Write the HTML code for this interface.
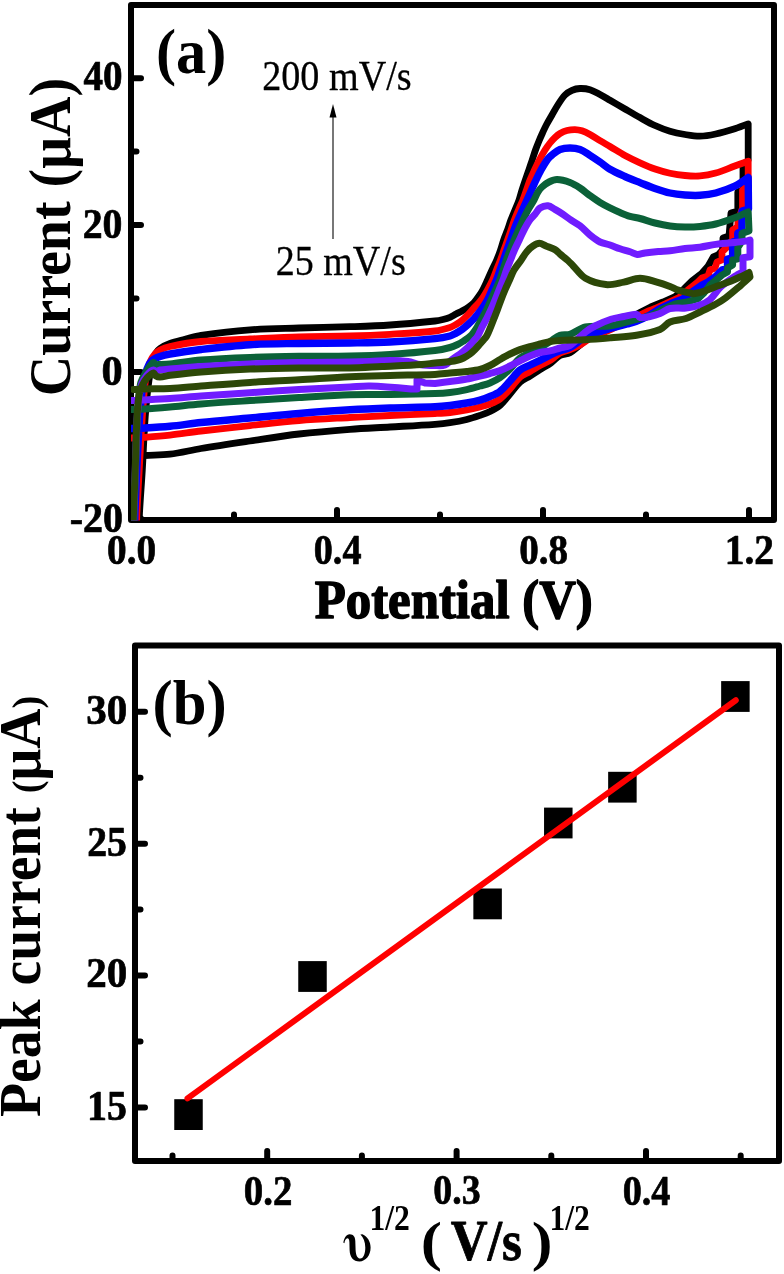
<!DOCTYPE html>
<html><head><meta charset="utf-8"><style>
html,body{margin:0;padding:0;background:#fff;width:784px;height:1274px;overflow:hidden}
svg{display:block}
text{font-family:"Liberation Serif",serif}
svg{will-change:transform}
</style></head><body>
<svg width="784" height="1274" viewBox="0 0 784 1274">
<rect width="784" height="1274" fill="#fff"/>
<path d="M131,5 H774 V520 H131 Z" fill="none" stroke="#000" stroke-width="6" stroke-linejoin="round"/>
<path d="M134,78.3 H141 M134,225 H141 M134,372 H141 M134,518.6 H141 M134,151.6 H136.5 M134,298.5 H136.5 M134,445.3 H136.5 M337,517 V510 M543,517 V510 M749,517 V510 M234,517 V514.5 M440,517 V514.5 M646,517 V514.5" stroke="#000" stroke-width="6" stroke-linecap="round" fill="none"/>
<defs><clipPath id="ca"><rect x="131" y="5" width="643" height="515.5"/></clipPath></defs>
<g clip-path="url(#ca)" fill="none" stroke-linejoin="round" stroke-linecap="round">
<path d="M139,530 C139,530 139.19,518.66 139.5,513 C140.29,498.66 141.45,484.34 142.3,470 C143.35,452.34 143.89,434.64 145.2,417 C146.12,404.64 147.26,392.26 149,380 C149.96,373.26 151.59,366.58 153.3,360 C153.93,357.58 154.76,355.13 156,353 C156.99,351.29 158.37,349.61 160,348.5 C163.03,346.44 166.52,344.78 170,343.5 C174.85,341.71 179.98,340.63 185,339.3 C190.31,337.89 195.57,336.09 201,335.3 C217.24,332.93 233.62,331.02 250,329.8 C266.29,328.59 282.66,328.51 299,328 C316,327.47 333,327.26 350,326.7 C363.34,326.26 376.69,325.89 390,325 C405.02,323.99 420.03,322.55 435,321 C437.7,320.72 440.37,320.15 443,319.5 C445.37,318.92 447.76,318.25 450,317.3 C452.09,316.41 453.98,315.06 456,314 C457.98,312.96 460.03,312.06 462,311 C464.03,309.9 466.12,308.83 468,307.5 C470.12,306 472.21,304.37 474,302.5 C475.88,300.54 477.45,298.24 479,296 C480.45,293.91 481.81,291.74 483,289.5 C484.64,286.41 486.03,283.18 487.5,280 C489.03,276.68 490.47,273.32 492,270 C493.54,266.65 495.26,263.39 496.7,260 C498.09,256.72 499.34,253.37 500.5,250 C501.64,246.7 502.45,243.29 503.6,240 C504.78,236.63 506.27,233.36 507.5,230 C508.71,226.69 509.66,223.3 510.9,220 C512.16,216.63 513.65,213.34 515,210 C516.35,206.67 517.82,203.39 519,200 C520.15,196.72 520.95,193.32 522,190 C523.05,186.65 524.17,183.32 525.3,180 C526.44,176.66 527.65,173.34 528.8,170 C529.95,166.67 531.08,163.34 532.2,160 C533.31,156.67 534.32,153.3 535.5,150 C536.58,146.97 537.77,143.98 539,141 C540.11,138.31 541.29,135.65 542.5,133 C543.73,130.31 544.92,127.61 546.3,125 C548.09,121.61 550.09,118.33 552,115 C553.92,111.66 555.7,108.23 557.8,105 C560.04,101.56 562.19,97.91 565,95 C566.92,93.01 569.47,91.4 572,90.3 C574.47,89.23 577.31,88.59 580,88.5 C583.31,88.39 586.83,88.75 590,89.7 C593.49,90.75 596.73,92.78 600,94.5 C603.39,96.28 606.68,98.28 610,100.2 C615.01,103.11 619.99,106.09 625,109 C629.99,111.89 634.95,114.82 640,117.6 C644.95,120.32 649.86,123.17 655,125.5 C659.86,127.7 664.89,129.67 670,131.2 C674.89,132.67 679.96,133.66 685,134.5 C689.96,135.33 695.01,136.28 700,136.2 C705.24,136.11 710.55,135.11 715.7,134 C722.15,132.61 728.49,130.66 734.8,128.7 C739.33,127.29 748.2,123.9 748.2,123.9 L748.2,160 L743,165 L743,190 L737.8,192 L737.8,211 L731,213 L729,236 L723,238 L722.5,250 L718,255 L713.3,257 L708.2,266 L702,273 L699.7,275 L692,281 L684.4,288.5 L675.2,296.5 L663,302 L650.7,307 C650.7,307 643.52,310.57 640,312.5 C635.62,314.91 631.41,317.64 627,320 C621.74,322.81 616.42,325.52 611,328 C604.42,331.02 597.3,333.04 591,336.5 C586.97,338.71 583.67,342.17 580,345 C576.67,347.57 573.66,350.78 570,352.7 C566.99,354.28 562.98,353.9 560,355.5 C556.65,357.3 554.17,360.67 551,362.9 C547.5,365.37 543.64,367.33 540,369.6 C536.64,371.69 533.35,373.89 530,376 C526.68,378.09 522.88,379.61 520,382.2 C516.21,385.61 513.37,390.1 510,394 C506.7,397.83 503.76,402.11 500,405.4 C497.09,407.94 493.48,409.76 490,411.5 C486.81,413.09 483.38,414.23 480,415.4 C475.65,416.9 471.27,418.41 466.8,419.5 C461.27,420.85 455.63,421.85 450,422.7 C445.03,423.45 440.01,423.94 435,424.3 C420.01,425.37 405,426.12 390,427 C376.67,427.78 363.31,428.28 350,429.3 C332.98,430.61 315.95,432.02 299,434 C282.62,435.92 266.32,438.59 250,441 C233.65,443.42 217.3,445.81 201,448.5 C190.63,450.21 180.4,452.9 170,454.2 C161.74,455.23 153.33,455.01 145,455.5 C140.33,455.78 131,456.5 131,456.5" stroke="#000000" stroke-width="6.8"/>
<path d="M136.5,530 C136.5,530 136.65,518.66 136.9,513 C137.55,498.66 138.39,484.33 139.2,470 C140.19,452.33 141.06,434.65 142.3,417 C143.16,404.65 143.79,392.23 145.5,380 C146.36,373.89 147.9,367.75 150,362 C151.07,359.08 153.01,356.38 155,354 C156.35,352.38 158.12,350.94 160,350 C163.12,348.44 166.55,347.21 170,346.5 C180.22,344.38 190.59,342.48 201,341.5 C217.26,339.98 233.66,339.78 250,339 C266.33,338.22 282.66,337.29 299,336.8 C315.99,336.29 333.01,336.47 350,336 C363.34,335.63 376.68,335.08 390,334.3 C405.01,333.42 420.09,332.69 435,331 C440.09,330.42 445.12,329.01 450,327.5 C452.12,326.84 454.07,325.62 456,324.5 C458.07,323.29 460.15,322.01 462,320.5 C464.15,318.75 466.08,316.71 468,314.7 C469.75,312.88 471.3,310.87 473,309 C474.8,307.03 476.75,305.21 478.5,303.2 C480.09,301.38 481.64,299.5 483,297.5 C484.64,295.1 486.1,292.55 487.5,290 C489.3,286.72 491.07,283.41 492.6,280 C494.07,276.74 495.19,273.33 496.5,270 C497.82,266.66 499.24,263.36 500.5,260 C501.74,256.69 502.83,253.33 504,250 C505.17,246.67 506.33,243.33 507.5,240 C508.67,236.67 509.85,233.34 511,230 C512.15,226.67 513.16,223.3 514.4,220 C515.66,216.63 517.09,213.32 518.5,210 C519.92,206.65 521.55,203.38 522.9,200 C524.21,196.71 525.31,193.34 526.5,190 C527.68,186.67 528.69,183.28 530,180 C531.36,176.61 532.96,173.31 534.5,170 C536.06,166.65 537.58,163.27 539.3,160 C541.08,156.61 542.96,153.24 545,150 C546.53,147.58 548.21,145.24 550,143 C551.55,141.07 553.21,139.2 555,137.5 C556.54,136.03 558.17,134.57 560,133.5 C562.17,132.23 564.57,131.13 567,130.5 C569.57,129.83 572.34,129.55 575,129.6 C577.34,129.65 579.77,130.07 582,130.8 C584.77,131.7 587.43,133.09 590,134.5 C593.43,136.39 596.64,138.68 600,140.7 C603.3,142.68 606.68,144.54 610,146.5 C615.02,149.47 619.88,152.72 625,155.5 C629.88,158.15 634.93,160.52 640,162.8 C644.93,165.02 649.9,167.23 655,169 C659.9,170.7 664.93,172.1 670,173.2 C674.93,174.27 679.97,175.05 685,175.5 C689.97,175.95 695.04,176.3 700,175.9 C705.28,175.47 710.6,174.45 715.7,173 C722.2,171.15 728.43,168.31 734.8,166 C739.26,164.38 748.2,161.2 748.2,161.2 L748.2,185 L742.5,190 L742.5,208 L738,221 L737.8,227 L732.6,230 L732.6,240.4 L727,247 L722,252 L722,259.8 L717,262 L715,268 L710,270 L708,276 L702,278 L698,282 L688,290 L679,297.5 L667,303 L655,308.5 C655,308.5 647.62,311.39 644,313 C638.28,315.55 632.6,318.2 627,321 C621.6,323.7 616.46,326.92 611,329.5 C604.46,332.59 597.46,334.77 591,338 C587.13,339.94 583.8,342.9 580,345 C576.8,346.77 573.4,348.24 570,349.6 C566.74,350.91 563.06,351.36 560,353 C556.73,354.76 554.18,357.81 551,359.8 C547.51,361.98 543.61,363.49 540,365.5 C536.61,367.39 533.36,369.55 530,371.5 C526.7,373.42 522.83,374.62 520,377.1 C516.16,380.46 513.49,385.18 510,389 C506.82,392.48 503.72,396.21 500,399 C497.06,401.21 493.45,402.62 490,404 C486.78,405.29 483.37,406.13 480,407 C475.63,408.13 471.24,409.19 466.8,410 C461.24,411.02 455.62,411.88 450,412.5 C445.02,413.05 440,413.25 435,413.5 C420,414.25 405,414.79 390,415.5 C376.66,416.13 363.33,416.77 350,417.5 C333,418.43 315.97,419.13 299,420.5 C282.64,421.83 266.33,423.85 250,425.6 C233.66,427.35 217.32,429.06 201,431 C190.65,432.23 180.36,433.94 170,435.1 C161.69,436.04 153.34,436.68 145,437.3 C140.34,437.65 131,438 131,438" stroke="#ff0000" stroke-width="6.8"/>
<path d="M134.5,530 C134.5,530 134.68,518.66 134.9,513 C135.45,498.66 136.1,484.33 136.8,470 C137.67,452.33 138.37,434.64 139.6,417 C140.27,407.31 141.02,397.58 142.5,388 C143.49,381.58 144.9,375.09 147,369 C148.06,365.92 149.73,362.68 152,360.5 C154.06,358.52 157.21,357.51 160,356.5 C163.21,355.34 166.62,354.58 170,354 C180.28,352.24 190.63,350.71 201,349.5 C217.3,347.61 233.63,345.7 250,344.7 C266.3,343.7 282.66,343.78 299,343.5 C316,343.21 333,343.28 350,343 C363.34,342.78 376.68,342.69 390,342 C405.02,341.22 420.04,340.1 435,338.6 C440.04,338.1 445.11,337.22 450,336 C451.94,335.52 453.73,334.46 455.5,333.5 C457.73,332.29 459.94,330.98 462,329.5 C464.11,327.98 466.07,326.24 468,324.5 C470.17,322.54 472.36,320.58 474.3,318.4 C476.82,315.58 479.1,312.52 481.4,309.5 C482.5,308.05 483.52,306.53 484.5,305 C485.55,303.37 486.63,301.74 487.5,300 C489.13,296.74 490.5,293.33 492,290 C493.5,286.67 495.14,283.39 496.5,280 C497.81,276.72 498.82,273.33 500,270 C501.19,266.66 502.43,263.34 503.6,260 C504.76,256.68 505.84,253.32 507,250 C508.17,246.66 509.43,243.34 510.6,240 C511.76,236.68 512.78,233.3 514,230 C515.25,226.63 516.6,223.3 518,220 C519.43,216.64 521,213.33 522.5,210 C524,206.67 525.5,203.33 527,200 C528.5,196.67 530,193.33 531.5,190 C533,186.67 534.43,183.3 536,180 C537.6,176.63 539.18,173.25 541,170 C543.11,166.25 545.27,162.45 547.8,159 C548.94,157.45 550.48,156.18 552,155 C554.55,153.02 557.06,150.64 560,149.5 C563.06,148.31 566.67,148 570,148 C573.33,148 576.89,148.36 580,149.5 C583.56,150.8 586.73,153.26 590,155.3 C593.4,157.43 596.71,159.7 600,162 C603.38,164.37 606.44,167.24 610,169.3 C614.78,172.07 619.93,174.25 625,176.5 C629.93,178.69 634.99,180.6 640,182.6 C644.99,184.6 649.93,186.74 655,188.5 C659.93,190.21 664.91,191.9 670,193 C674.91,194.06 679.98,194.62 685,195 C689.98,195.38 695.03,195.62 700,195.3 C705.26,194.96 710.61,194.35 715.7,193 C722.21,191.28 728.73,189 734.8,186.1 C739.56,183.83 748.2,177.5 748.2,177.5 L748.5,209 L742,211 L742,231 L737.8,233 L737.8,240.4 L732.6,242 L732.6,257.8 L727.5,259 L727.5,268 L722,270 L715,277 L708,282 L702,285 L692,292 L683,299 L671,303.5 L659,309 C659,309 651.81,313.93 648,316 C644.31,318 640.42,319.71 636.5,321.2 C633.42,322.37 630.18,323.11 627,324 C621.68,325.48 616.26,326.63 611,328.3 C602.43,331.03 593.58,333.4 585.5,337.2 C579.91,339.83 575.43,344.68 570,347.6 C566.93,349.25 563.29,349.67 560,350.9 C556.95,352.04 553.94,353.3 551,354.7 C547.27,356.47 543.71,358.58 540,360.4 C536.71,362.02 533.31,363.41 530,365 C526.64,366.61 522.86,367.71 520,370 C516.19,373.04 513.39,377.39 510,381 C506.72,384.49 503.73,388.41 500,391.3 C497.07,393.57 493.43,394.99 490,396.5 C486.76,397.92 483.4,399.15 480,400.1 C475.67,401.31 471.23,402.2 466.8,403 C461.23,404 455.62,404.83 450,405.5 C445.02,406.1 440.01,406.59 435,406.8 C420.01,407.42 405,407.47 390,408 C376.66,408.47 363.32,408.99 350,409.8 C332.99,410.83 315.99,412.11 299,413.5 C282.65,414.84 266.33,416.5 250,418 C233.67,419.5 217.32,420.83 201,422.5 C190.65,423.56 180.35,425.18 170,426.2 C161.69,427.02 153.34,427.51 145,428 C140.34,428.27 131,428.5 131,428.5" stroke="#0000ff" stroke-width="7.4"/>
<path d="M133.8,530 C133.8,530 133.84,518.66 134,513 C134.41,498.66 135.01,484.33 135.5,470 C136.07,453.33 136.42,436.66 137.2,420 C137.59,411.66 138.17,403.31 139,395 C139.44,390.64 139.74,386.14 141,382 C142.07,378.48 144.18,375.24 146,372 C147.18,369.91 148.52,367.88 150,366 C151.02,364.71 152.29,362.8 153.5,362.5 C154.29,362.3 155.04,364.2 156,364.5 C157.2,364.87 158.67,364.56 160,364.5 C163.34,364.36 166.68,364.26 170,363.9 C180.35,362.76 190.63,360.84 201,360 C217.29,358.68 233.66,358.02 250,357.4 C266.32,356.78 282.66,356.53 299,356.3 C316,356.06 333.01,356.34 350,356 C363.34,355.74 376.69,355.35 390,354.5 C405.02,353.55 420.06,352.34 435,350.6 C440.06,350.01 445.09,348.83 450,347.5 C452.62,346.79 455.15,345.66 457.6,344.5 C459.71,343.5 461.71,342.24 463.7,341 C465.18,340.07 466.63,339.08 468,338 C469.39,336.91 470.87,335.85 472,334.5 C473.87,332.28 475.46,329.78 477,327.3 C478.79,324.41 480.34,321.37 482,318.4 C483.01,316.6 484.04,314.82 485,313 C485.87,311.35 486.72,309.69 487.5,308 C488.72,305.36 489.82,302.66 491,300 C492.48,296.66 494.03,293.35 495.5,290 C496.96,286.68 498.53,283.39 499.8,280 C501.03,276.73 501.9,273.32 503,270 C504.1,266.66 505.24,263.32 506.4,260 C507.57,256.66 508.73,253.31 510,250 C511.29,246.64 512.69,243.32 514.1,240 C515.52,236.65 517.02,233.33 518.5,230 C519.99,226.66 521.43,223.3 523,220 C524.6,216.63 526.21,213.26 528,210 C529.87,206.6 532.11,203.4 534,200 C535.45,197.4 536.45,194.53 538,192 C539.11,190.19 540.44,188.42 542,187 C544.1,185.09 546.47,183.27 549,182 C551.47,180.77 554.3,179.44 557,179.5 C561.3,179.6 565.87,180.97 570,182.5 C573.53,183.81 576.83,185.92 580,188 C583.49,190.29 586.61,193.14 590,195.6 C593.28,197.98 596.56,200.38 600,202.5 C603.22,204.48 606.61,206.21 610,207.9 C613.28,209.54 616.62,211.08 620,212.5 C623.29,213.88 626.59,215.28 630,216.3 C633.26,217.28 636.71,217.62 640,218.5 C645.04,219.85 649.94,221.74 655,223 C659.94,224.24 664.96,225.33 670,226 C674.96,226.66 680,226.93 685,227 C690,227.07 695.03,226.89 700,226.4 C705.26,225.89 710.58,225.28 715.7,224 C722.18,222.38 728.52,220.04 734.8,217.7 C739.36,216 748.2,211.9 748.2,211.9 L749,231 L742,233.3 L742,241 L737.8,247.6 L737.8,258.8 L732.6,260 L732.6,265 L727.5,268 L727.5,272 L722,275 L715,281 L710,285 L704,293 L698,298.6 L687,302 L675,304 L663,309 C663,309 655.87,313.5 652,315 C647.03,316.93 641.69,317.95 636.5,319.3 C628.02,321.51 619.62,324.4 611,325.7 C602.62,326.96 593.68,325.28 585.5,327 C580.01,328.15 575.36,332.56 570,334.3 C566.86,335.32 563.07,334.22 560,335.3 C556.74,336.45 554,339.1 551,341 C547.33,343.33 543.77,345.85 540,348 C536.77,349.85 533.33,351.33 530,353 C526.67,354.67 522.86,355.71 520,358 C516.19,361.04 513.52,365.53 510,369 C506.86,372.1 503.6,375.18 500,377.7 C496.93,379.85 493.47,381.56 490,383 C486.8,384.33 483.35,385.05 480,386 C475.61,387.25 471.25,388.64 466.8,389.6 C461.25,390.8 455.63,391.79 450,392.5 C445.03,393.12 440.01,393.43 435,393.6 C420.01,394.1 405,394.31 390,394.5 C376.67,394.67 363.32,394.26 350,394.7 C332.99,395.26 316,396.5 299,397.5 C282.66,398.46 266.33,399.52 250,400.6 C233.66,401.68 217.32,402.71 201,404 C190.65,404.81 180.34,405.99 170,406.9 C161.34,407.66 152.67,408.42 144,409 C139.67,409.29 131,409.5 131,409.5" stroke="#0b6138" stroke-width="7.0"/>
<path d="M133.5,530 C133.5,530 133.63,518.66 133.8,513 C134.23,498.66 134.81,484.33 135.3,470 C135.87,453.33 136.14,436.65 137,420 C137.38,412.65 138.02,405.29 139,398 C139.68,392.95 140.35,387.74 142,383 C143.02,380.08 145.12,377.5 147,375 C148.12,373.5 149.53,372.13 151,371 C151.7,370.46 152.7,369.92 153.5,370 C154.37,370.09 155.12,371.5 156,371.5 C157.29,371.5 158.61,370.25 160,370 C163.27,369.42 166.66,369.28 170,369 C180.33,368.12 190.65,367.15 201,366.5 C217.32,365.48 233.66,364.67 250,364 C266.33,363.33 282.66,362.83 299,362.5 C316,362.16 333,362.24 350,362 C356.67,361.91 363.34,361.75 370,361.5 C376.67,361.25 383.33,360.5 390,360.5 C396,360.5 402.07,360.71 408,361.5 C412.07,362.04 415.94,363.9 420,364.5 C424.94,365.23 430,365.4 435,365.5 C438.33,365.57 442,366.06 445,365 C447.67,364.06 449.61,361.25 452,359.5 C454.61,357.59 457.39,355.91 460,354 C461.72,352.74 463.4,351.41 465,350 C466.73,348.48 468.41,346.88 470,345.2 C471.41,343.71 472.66,342.06 474,340.5 C475.2,339.1 476.66,337.87 477.6,336.3 C479.29,333.47 480.38,330.26 481.9,327.3 C483.45,324.29 485.26,321.41 486.8,318.4 C488.29,315.48 489.66,312.5 491,309.5 C492.4,306.36 493.7,303.18 495,300 C496.36,296.68 497.67,293.33 499,290 C500.33,286.67 501.74,283.36 503,280 C504.24,276.69 505.26,273.31 506.5,270 C507.76,266.64 509.17,263.33 510.5,260 C511.83,256.67 513.05,253.28 514.5,250 C515.99,246.62 517.71,243.34 519.3,240 C520.88,236.67 522.29,233.26 524,230 C525.79,226.59 527.61,223.15 529.8,220 C531.28,217.88 533.32,216.18 535,214.2 C536.72,212.18 537.88,209.39 540,208 C542.21,206.55 545.44,205.46 548,205.7 C550.44,205.93 552.71,208.09 555,209.4 C557.54,210.86 560.06,212.37 562.5,214 C565.06,215.71 567.45,217.68 570,219.4 C573.28,221.61 576.89,223.38 580,225.8 C583.56,228.58 586.49,232.16 590,235 C593.15,237.56 596.41,240.2 600,242 C603.07,243.54 606.71,243.88 610,245 C613.37,246.15 616.63,247.65 620,248.8 C623.29,249.92 626.7,250.71 630,251.8 C632.43,252.61 634.74,254.3 637.2,254.5 C639.74,254.7 642.38,253.37 645,253 C649.41,252.37 653.86,251.89 658.3,251.5 C662.19,251.16 666.12,251.24 670,250.8 C675.02,250.24 679.98,249.1 685,248.5 C689.98,247.9 695.03,247.86 700,247.2 C705.26,246.5 710.44,245.11 715.7,244.4 C722.04,243.54 728.45,243.24 734.8,242.5 C739.28,241.98 748.2,240.6 748.2,240.6 L750,240 L750,256.7 L743,257.8 L743,272 L737,275 C737,275 734.73,276.23 733.7,277 C729.2,280.33 724.44,283.45 720.4,287.3 C716.54,290.98 713.99,296.14 710,299.6 C707.19,302.04 703.54,303.76 700,305 C695.54,306.56 690.72,307.45 686,308 C680.72,308.62 675.09,307.4 670,308.5 C666.43,309.27 663.46,312.22 660,313.6 C656.79,314.88 653.39,315.84 650,316.5 C646.73,317.14 643.04,318.02 640,317.5 C638.54,317.25 637.97,314.29 636.5,314.2 C632.57,313.96 628.02,315.66 623.8,316.5 C619.52,317.36 615.13,317.94 611,319.3 C605.53,321.1 600.16,323.43 595,326 C591.66,327.66 588.45,329.7 585.5,332 C580.11,336.2 575.66,341.95 570,345.5 C567.16,347.28 563.32,347.11 560,348 C556.98,348.81 554.04,349.92 551,350.6 C547.38,351.42 543.59,351.58 540,352.5 C536.59,353.38 533.26,354.65 530,356 C526.59,357.42 523.31,359.15 520,360.8 C516.64,362.48 513.37,364.35 510,366 C506.71,367.61 503.43,369.32 500,370.6 C496.76,371.82 493.35,372.6 490,373.5 C486.68,374.4 483.34,375.21 480,376 C475.61,377.04 471.24,378.19 466.8,379 C461.24,380.02 455.61,380.71 450,381.5 C445.01,382.21 435,383.5 435,383.5 L425,383 L417,380 L417,389 L411,389 C411,389 383.67,386.45 370,386 C363.34,385.78 356.67,386.67 350,387 C333,387.84 315.99,388.53 299,389.5 C282.66,390.43 266.33,391.62 250,392.7 C233.67,393.78 217.33,394.8 201,396 C190.66,396.76 180.34,397.87 170,398.6 C161.34,399.21 152.67,399.58 144,400 C139.67,400.21 131,400.5 131,400.5" stroke="#701cff" stroke-width="7.0"/>
<path d="M133.2,530 C133.2,530 133.31,518.66 133.5,513 C133.98,498.66 134.68,484.33 135.2,470 C135.84,452.33 136.05,434.64 137,417 C137.42,409.14 137.9,401.18 139.3,393.5 C139.9,390.18 141.5,387.03 143,384 C144.06,381.86 145.46,379.82 147,378 C148.29,376.48 149.92,375.22 151.5,374 C152.09,373.55 152.95,372.76 153.5,373 C154.45,373.42 154.95,375.35 156,376 C157.11,376.68 158.65,377.07 160,377 C163.32,376.83 166.64,375.71 170,375.3 C180.31,374.04 190.64,372.8 201,372 C217.31,370.74 233.65,369.77 250,369.1 C266.32,368.43 282.66,368.18 299,368 C316,367.81 333.01,368.31 350,368 C360.67,367.81 371.33,367.02 382,366.5 C395.33,365.85 408.68,365.38 422,364.5 C426.35,364.21 430.66,363.46 435,363 C440,362.46 445.02,362.15 450,361.5 C452.69,361.15 455.38,360.68 458,360 C459.88,359.51 461.76,358.87 463.5,358 C465.76,356.87 467.96,355.51 470,354 C471.8,352.67 473.42,351.08 475,349.5 C476.75,347.75 478.35,345.85 480,344 C481.18,342.68 482.36,341.35 483.5,340 C484.52,338.79 485.74,337.68 486.5,336.3 C488.07,333.45 489.23,330.33 490.5,327.3 C491.73,324.36 492.83,321.37 494,318.4 C495.17,315.43 496.37,312.48 497.5,309.5 C498.7,306.35 499.79,303.15 501,300 C502.29,296.65 503.6,293.3 505,290 C506.43,286.64 508,283.33 509.5,280 C511,276.67 512.16,273.14 514,270 C516.06,266.47 518.85,263.37 521.2,260 C523.18,257.17 524.79,254.02 527,251.4 C528.72,249.36 530.78,247.45 533,246 C534.91,244.75 537.26,243.3 539.4,243.3 C541.6,243.3 543.8,245.11 546,246 C549,247.21 552.23,248.02 555,249.6 C556.9,250.69 558.3,252.57 560,254 C562.6,256.2 565.37,258.22 567.9,260.5 C569.63,262.06 571.16,263.84 572.8,265.5 C577.03,269.77 580.45,275.38 585.5,278.3 C591.48,281.75 598.99,283.91 605.9,284.6 C611.75,285.18 617.88,283.19 623.8,282.1 C629.25,281.09 634.59,278.3 640,278.3 C645.63,278.3 651.34,280.58 656.9,282.1 C661.34,283.31 665.7,284.87 670,286.5 C672.83,287.57 675.42,289.3 678.3,290.2 C682.99,291.67 687.88,293.11 692.7,293.6 C695.11,293.84 697.64,293.1 700,292.4 C705.08,290.9 710.01,288.83 715,287 C720.21,285.09 725.45,283.26 730.6,281.2 C733.78,279.93 736.9,278.47 740,277 C743.03,275.57 749,272.5 749,272.5 L750,277 C750,277 743.94,282.61 740.8,285.3 C735.77,289.61 730.78,294.02 725.5,298 C722.52,300.25 719.28,302.2 716,304 C710.78,306.87 705.37,309.41 700,312 C695.37,314.24 690.85,316.88 686,318.5 C680.85,320.22 674.92,319.92 670,322 C666.25,323.59 663.8,327.99 660,329.5 C652.64,332.42 644.43,333.96 636.5,335.3 C628.1,336.72 619.51,337.07 611,337.8 C602.51,338.53 594.01,339.27 585.5,339.7 C577.01,340.13 568.49,339.98 560,340.4 C556.99,340.55 553.97,340.87 551,341.4 C547.3,342.07 543.66,343.11 540,344 C536.66,344.81 533.31,345.57 530,346.5 C526.64,347.44 523.26,348.38 520,349.6 C516.6,350.88 513.26,352.39 510,354 C506.59,355.69 503.3,357.6 500,359.5 C496.63,361.44 493.47,363.77 490,365.5 C486.8,367.1 483.45,368.61 480,369.5 C475.72,370.61 471.22,370.98 466.8,371.5 C461.22,372.15 455.6,372.49 450,373 C445,373.46 440.02,374.19 435,374.4 C420.02,375.02 405,375.08 390,375.5 C376.67,375.88 363.32,376.17 350,376.8 C332.99,377.6 316,378.85 299,379.8 C282.67,380.71 266.32,381.37 250,382.4 C233.66,383.43 217.33,384.75 201,386 C190.66,386.79 180.35,387.96 170,388.5 C161.35,388.96 152.66,388.74 144,389 C140.5,389.11 133.5,389.6 133.5,389.6" stroke="#2d4808" stroke-width="7.0"/>
</g>
<line x1="333" y1="239" x2="333" y2="112" stroke="#555" stroke-width="1.6"/>
<path d="M333,104 L329.5,117.5 L336.5,117.5 Z" fill="#000"/>
<text transform="translate(83.54,89.83) scale(0.9356,1)" font-size="41.79" font-weight="bold" fill="#000" stroke="#000" stroke-width="0.70" stroke-linejoin="round">40</text>
<text transform="translate(82.74,237.53) scale(0.9436,1)" font-size="42.09" font-weight="bold" fill="#000" stroke="#000" stroke-width="0.70" stroke-linejoin="round">20</text>
<text transform="translate(101.56,384.93) scale(1.0136,1)" font-size="41.79" font-weight="bold" fill="#000" stroke="#000" stroke-width="0.70" stroke-linejoin="round">0</text>
<text transform="translate(69.73,531.93) scale(0.9510,1)" font-size="42.09" font-weight="bold" fill="#000" stroke="#000" stroke-width="0.70" stroke-linejoin="round">-20</text>
<text transform="translate(106.96,563.84) scale(0.9483,1)" font-size="41.49" font-weight="bold" fill="#000" stroke="#000" stroke-width="0.70" stroke-linejoin="round">0.0</text>
<text transform="translate(313.8,563.63) scale(0.9154,1)" font-size="41.64" font-weight="bold" fill="#000" stroke="#000" stroke-width="0.70" stroke-linejoin="round">0.4</text>
<text transform="translate(519.16,563.63) scale(0.9391,1)" font-size="41.64" font-weight="bold" fill="#000" stroke="#000" stroke-width="0.70" stroke-linejoin="round">0.8</text>
<text transform="translate(724.68,563.63) scale(0.9465,1)" font-size="41.64" font-weight="bold" fill="#000" stroke="#000" stroke-width="0.70" stroke-linejoin="round">1.2</text>
<text transform="translate(155.89,72.91) scale(0.9400,1)" font-size="64.22" font-weight="bold" fill="#000">(a)</text>
<text transform="translate(314.68,618.25) scale(0.9230,1)" font-size="55.08" font-weight="bold" fill="#000" stroke="#000" stroke-width="1.50" stroke-linejoin="round">Potential (V)</text>
<text transform="translate(262.21,89.55) scale(0.8922,1)" font-size="42.77" font-weight="normal" fill="#000" stroke="#000" stroke-width="0.30" stroke-linejoin="round">200 mV/s</text>
<text transform="translate(275.71,274.65) scale(0.8900,1)" font-size="42.77" font-weight="normal" fill="#000" stroke="#000" stroke-width="0.30" stroke-linejoin="round">25 mV/s</text>
<text transform="translate(69.6,396.3) rotate(-90) scale(0.9525,1)" font-size="58.79" font-weight="bold">Current (μA)</text>
<path d="M135,645.5 H779 V1161 H135 Z" fill="none" stroke="#000" stroke-width="6" stroke-linejoin="round"/>
<path d="M138,711.8 H145 M138,843.7 H145 M138,975.6 H145 M138,1107.5 H145 M138,777.8 H140.5 M138,909.6 H140.5 M138,1041.5 H140.5 M267.2,1158 V1151 M456.6,1158 V1151 M646,1158 V1151 M172.5,1158 V1155.5 M361.9,1158 V1155.5 M551.3,1158 V1155.5 M740.7,1158 V1155.5" stroke="#000" stroke-width="6" stroke-linecap="round" fill="none"/>
<rect x="174.25" y="1099.2" width="28.5" height="30.8" fill="#000"/>
<rect x="298.25" y="961.1" width="28.5" height="30.8" fill="#000"/>
<rect x="473.35" y="888.5" width="28.5" height="30.8" fill="#000"/>
<rect x="544.05" y="807.6" width="28.5" height="30.8" fill="#000"/>
<rect x="608.15" y="771.8" width="28.5" height="30.8" fill="#000"/>
<rect x="721.15" y="681.1" width="28.5" height="30.8" fill="#000"/>
<line x1="187.5" y1="1098.4" x2="735.8" y2="700.2" stroke="#f00" stroke-width="6" stroke-linecap="round"/>
<text transform="translate(86.3,723.63) scale(0.9673,1)" font-size="42.39" font-weight="bold" fill="#000" stroke="#000" stroke-width="0.70" stroke-linejoin="round">30</text>
<text transform="translate(87.14,855.63) scale(0.9371,1)" font-size="42.39" font-weight="bold" fill="#000" stroke="#000" stroke-width="0.70" stroke-linejoin="round">25</text>
<text transform="translate(86.3,987.43) scale(0.9673,1)" font-size="42.39" font-weight="bold" fill="#000" stroke="#000" stroke-width="0.70" stroke-linejoin="round">20</text>
<text transform="translate(86.93,1120.02) scale(0.9283,1)" font-size="43.03" font-weight="bold" fill="#000" stroke="#000" stroke-width="0.70" stroke-linejoin="round">15</text>
<text transform="translate(243.87,1204.53) scale(0.9166,1)" font-size="42.39" font-weight="bold" fill="#000" stroke="#000" stroke-width="0.70" stroke-linejoin="round">0.2</text>
<text transform="translate(433.3,1204.23) scale(0.9026,1)" font-size="41.94" font-weight="bold" fill="#000" stroke="#000" stroke-width="0.70" stroke-linejoin="round">0.3</text>
<text transform="translate(622.69,1204.53) scale(0.9014,1)" font-size="42.39" font-weight="bold" fill="#000" stroke="#000" stroke-width="0.70" stroke-linejoin="round">0.4</text>
<text transform="translate(152.57,724.36) scale(0.9485,1)" font-size="64.00" font-weight="bold" fill="#000">(b)</text>
<text transform="translate(40.3,1117.01) rotate(-90) scale(0.9504,1)" font-size="58.62" font-weight="bold">Peak current <tspan font-size="40.44">(</tspan>μA<tspan font-size="40.44">)</tspan></text>
<path d="M343.3,1242.6 C344.2,1238.2 346.2,1234.4 349.6,1234.3 C353.4,1234.2 355.2,1237 355.3,1241 L355.6,1250 C355.9,1255.6 357.6,1258.6 360.3,1258.6 C363.6,1258.6 365.3,1253.6 365.3,1247.6 C365.3,1242 363.4,1237.6 360.4,1234.6 L362.4,1234.2 C367.6,1236.6 370.6,1241.6 370.6,1247.6 C370.6,1255.6 365.6,1261.5 359.5,1261.5 C353.3,1261.5 349.8,1257 349.6,1250 L349.4,1242 C349.3,1239.4 348.6,1238.2 347.5,1238.2 C345.8,1238.2 344.8,1240.4 344.4,1243.2 Z" fill="#000"/>
<text transform="translate(369.47,1230.35) scale(0.9098,1)" font-size="34.78" font-weight="bold" fill="#000">1/2</text>
<text transform="translate(420.85,1260.1) scale(1.1655,1)" font-size="54.78" font-weight="bold" fill="#000">(</text>
<text transform="translate(450.85,1260.04) scale(0.9104,1)" font-size="56.12" font-weight="bold" fill="#000" stroke="#000" stroke-width="0.80" stroke-linejoin="round">V/s</text>
<text transform="translate(531.63,1259.99) scale(1.1468,1)" font-size="54.33" font-weight="bold" fill="#000">)</text>
<text transform="translate(549.47,1230.45) scale(0.9059,1)" font-size="34.93" font-weight="bold" fill="#000">1/2</text>
</svg></body></html>
